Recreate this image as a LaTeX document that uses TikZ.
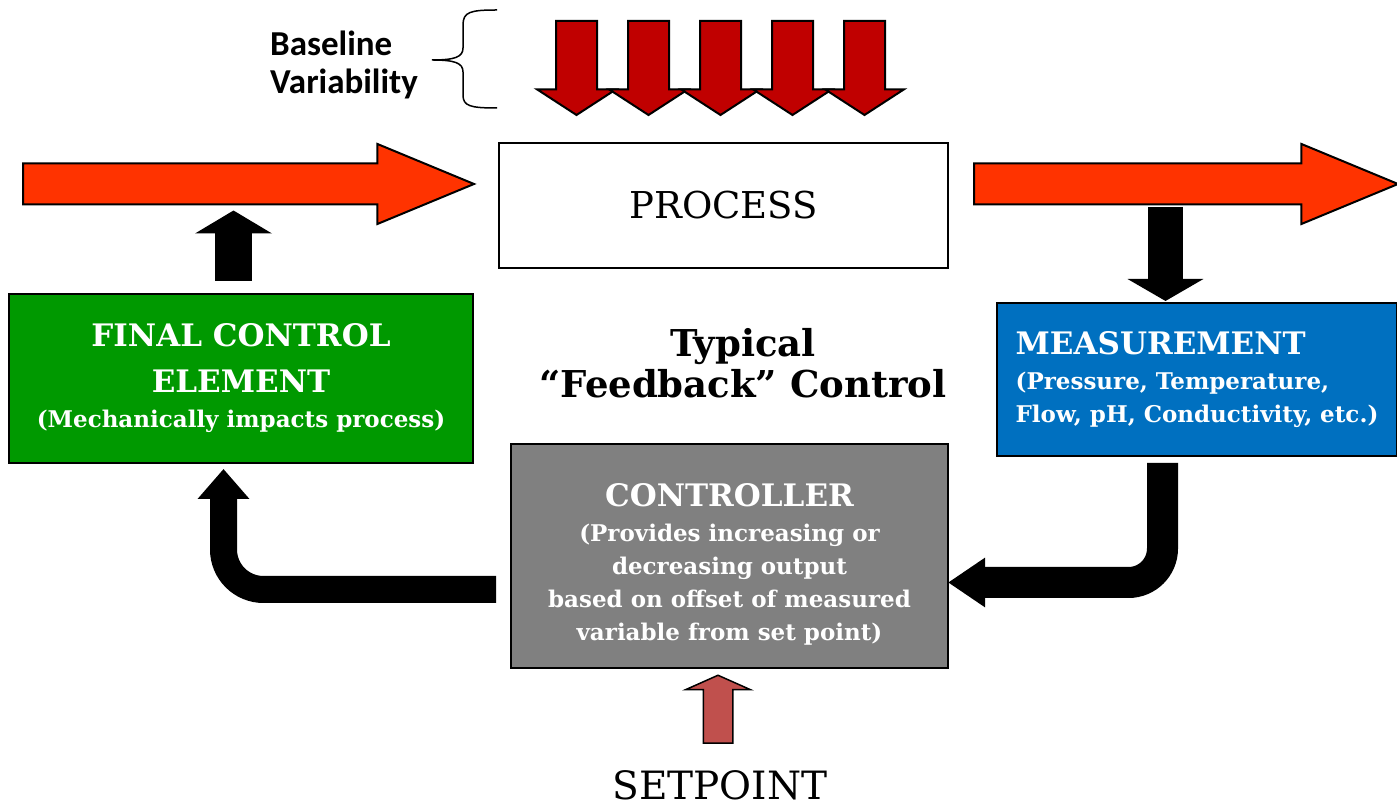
\documentclass[tikz,border=0pt]{standalone}
\usepackage{fontspec}
\setmainfont{DejaVu Serif}
\newfontfamily\labelfont{Carlito}
\usetikzlibrary{positioning,arrows.meta,shapes.arrows,calc}
\definecolor{flowRed}{RGB}{255,51,0}
\definecolor{varRed}{RGB}{192,0,0}
\definecolor{fceGreen}{RGB}{0,153,0}
\definecolor{measBlue}{RGB}{0,112,192}
\definecolor{ctrlGray}{RGB}{128,128,128}
\definecolor{spRed}{RGB}{192,80,77}
\newcommand{\subtxt}{\fontsize{23}{33}\selectfont}

\begin{document}
\begin{tikzpicture}[x=1pt, y=1pt,
  blockbox/.style={draw=black, line width=2pt, inner sep=0pt, align=center, text=white},
  headfont/.style={font=\bfseries\fontsize{31}{33}\selectfont},
  flowarrow/.style={single arrow, anchor=tail, draw=black, line width=2pt, fill=flowRed, inner xsep=0pt,
    inner ysep=19.5pt, minimum width=78pt, single arrow head extend=19.5pt, single arrow tip angle=45},
  disturb/.style={single arrow, shape border rotate=270, anchor=tail, draw=black, line width=2pt, fill=varRed,
    inner xsep=19.5pt, inner ysep=0pt, minimum height=94pt, minimum width=77pt,
    single arrow head extend=19pt, single arrow tip angle=114},
]
\useasboundingbox (0,0) rectangle (1397,808);

% ===================================================================
% TOP: baseline variability
% ===================================================================
\foreach \k in {0,...,4} {
  \node[disturb] (dist\k) at (576.5+72*\k, 788) {};
}
\draw[line width=1.5pt] (497,798) .. controls (470,798) and (463,796) .. (463,783) -- (463,760)
  .. controls (463,751) and (455,748) .. (432,748) .. controls (455,748) and (463,745) .. (463,736)
  -- (463,713) .. controls (463,702) and (470,700) .. (497,700);
\node[font=\labelfont\bfseries\fontsize{35}{38}\selectfont, align=left, inner sep=0pt, anchor=west]
  (baseVar) at (270,743) {Baseline\\Variability};

% ===================================================================
% PROCESS with feed and product streams
% ===================================================================
\node[draw=black, line width=2pt, minimum width=449pt, minimum height=125pt, inner sep=0pt,
      font=\fontsize{37}{40}\selectfont] (process) at (723.5,602.5) {PROCESS};
\node[flowarrow, minimum height=451pt] (feedIn) at (22,624) {};
\node[flowarrow, minimum height=424pt] (feedOut) at (973,624) {};

% ===================================================================
% Loop elements
% ===================================================================
\node[blockbox, fill=fceGreen, minimum width=464pt, minimum height=169pt, headfont] (fce) at (241,429.5)
  {FINAL CONTROL\\[13pt]ELEMENT\\[2pt]{\subtxt (Mechanically impacts process)}};

\node[blockbox, fill=measBlue, minimum width=400pt, minimum height=153pt, headfont, align=left] (meas) at (1197,428.5)
  {MEASUREMENT\\[2pt]{\subtxt (Pressure, Temperature,}\\{\subtxt Flow, pH, Conductivity, etc.)}};

\node[blockbox, fill=ctrlGray, minimum width=437pt, minimum height=224pt, headfont] (ctrl) at (729.5,252)
  {\rule{0pt}{39pt}CONTROLLER\\[2pt]{\subtxt (Provides increasing or}\\{\subtxt decreasing output}\\{\subtxt based on offset of measured}\\{\subtxt variable from set point)}};

\node[font=\bfseries\fontsize{37}{41}\selectfont, align=center, inner sep=0pt] (title) at (743,445)
  {Typical\\“Feedback” Control};

% Setpoint
\node[font=\fontsize{39}{40}\selectfont, inner sep=0pt, anchor=base] (setpt) at (720,8) {SETPOINT};
\node[single arrow, shape border rotate=90, anchor=tail, draw=black, line width=1.5pt, fill=spRed,
      inner xsep=14pt, inner ysep=0pt, minimum height=68pt, minimum width=63pt,
      single arrow head extend=17.5pt, single arrow tip angle=132] (spArrow) at (718,64) {};

% ===================================================================
% Signal arrows
% ===================================================================
\draw[line width=37pt, -{Triangle[width=76pt,length=23pt]}]
  ($(fce.north)+(-7.5,12)$) -- ($(fce.north |- feedIn.south)+(-7.5,-5)$);
\draw[line width=35pt, -{Triangle[width=75pt,length=22pt]}]
  ($(meas.north |- feedOut.south)+(-31.5,-1.5)$) -- ($(meas.north)+(-31.5,1)$);
\draw[line width=31pt, rounded corners=34pt, -{Triangle[width=47pt,length=37pt]}]
  ($(meas.south)+(-34.5,-6)$) |- ($(ctrl.east)+(-1,-26.5)$);
\draw[line width=27pt, rounded corners=40pt, -{Triangle[width=50pt,length=30pt]}]
  ($(ctrl.west)+(-14,-33.5)$) -| ($(fce.south)+(-17.5,-5)$);

\end{tikzpicture}
\end{document}
